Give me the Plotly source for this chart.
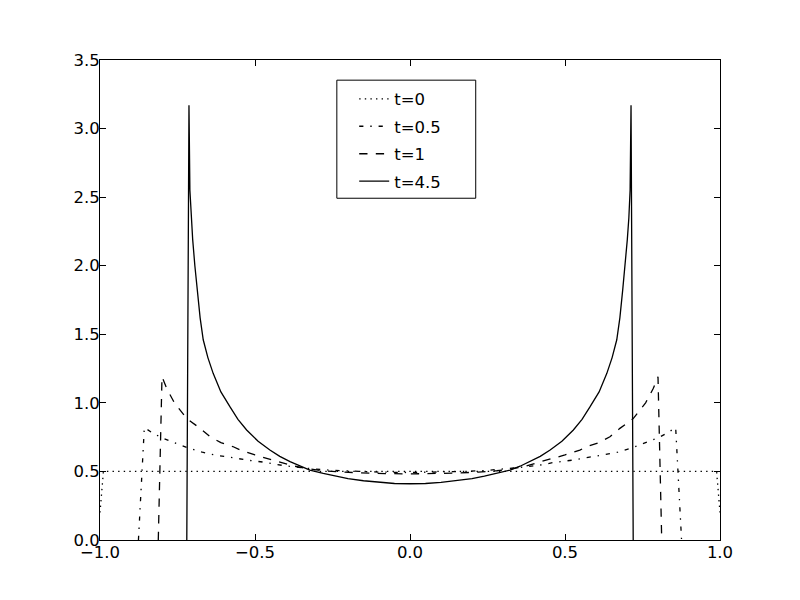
import plotly.graph_objects as go

# ── Data ──────────────────────────────────────────────────────
x_t0 = [-1.0, -0.989, 0.989, 1.0]
y_t0 = [0.2, 0.5, 0.5, 0.2]

x_t05 = [-0.876, -0.857, -0.830, -0.803, -0.760, -0.720, -0.670, -0.624,
         -0.570, -0.527, -0.462, -0.430, -0.380, -0.320, -0.250, -0.180,
         -0.100, 0.0,
         0.100, 0.180, 0.250, 0.320, 0.380, 0.430, 0.462, 0.527,
         0.570, 0.624, 0.670, 0.720, 0.760, 0.803, 0.830, 0.857, 0.876]
y_t05 = [0.0, 0.82, 0.78, 0.748, 0.71, 0.675, 0.64, 0.617,
         0.60, 0.583, 0.565, 0.55, 0.535, 0.52, 0.508, 0.50,
         0.495, 0.492,
         0.495, 0.50, 0.508, 0.52, 0.535, 0.55, 0.565, 0.583,
         0.60, 0.617, 0.64, 0.675, 0.71, 0.748, 0.78, 0.82, 0.0]

x_t1 = [-0.812, -0.800, -0.785, -0.760, -0.720, -0.677, -0.645, -0.610,
        -0.570, -0.548, -0.500, -0.462, -0.420, -0.376, -0.330, -0.280,
        -0.220, -0.150, -0.080, 0.0,
        0.080, 0.150, 0.220, 0.280, 0.330, 0.376, 0.420, 0.462,
        0.500, 0.548, 0.570, 0.610, 0.645, 0.677, 0.720, 0.760,
        0.785, 0.800, 0.812]
y_t1 = [0.0, 1.19, 1.106, 1.00, 0.885, 0.814, 0.753, 0.71,
        0.68, 0.656, 0.62, 0.596, 0.57, 0.54, 0.52, 0.505,
        0.495, 0.488, 0.484, 0.482,
        0.484, 0.488, 0.495, 0.505, 0.52, 0.54, 0.57, 0.596,
        0.62, 0.656, 0.68, 0.71, 0.753, 0.814, 0.885, 1.00,
        1.106, 1.19, 0.0]

x_t45 = [-0.720, -0.713, -0.710, -0.706, -0.701, -0.694, -0.686, -0.677,
         -0.667, -0.652, -0.635, -0.610, -0.581, -0.555, -0.527, -0.490,
         -0.452, -0.420, -0.387, -0.355, -0.323, -0.280, -0.240, -0.200,
         -0.150, -0.100, -0.050, 0.0,
         0.050, 0.100, 0.150, 0.200, 0.240, 0.280, 0.323, 0.355,
         0.387, 0.420, 0.452, 0.490, 0.527, 0.555, 0.581, 0.610,
         0.635, 0.652, 0.667, 0.677, 0.686, 0.694, 0.701, 0.706,
         0.710, 0.713, 0.720]
y_t45 = [0.0, 3.17, 2.55, 2.35, 2.19, 2.00, 1.82, 1.62,
         1.46, 1.33, 1.215, 1.08, 0.972, 0.88, 0.802, 0.72,
         0.656, 0.61, 0.571, 0.538, 0.510, 0.485, 0.465, 0.448,
         0.432, 0.42, 0.412, 0.41,
         0.412, 0.42, 0.432, 0.448, 0.465, 0.485, 0.510, 0.538,
         0.571, 0.61, 0.656, 0.72, 0.802, 0.88, 0.972, 1.08,
         1.215, 1.33, 1.46, 1.62, 1.82, 2.00, 2.19, 2.35,
         2.55, 3.17, 0.0]

x_ticks = [-1.0, -0.5, 0.0, 0.5, 1.0]
x_ticktext = ["\u22121.0", "\u22120.5", "0.0", "0.5", "1.0"]
y_ticks = [0.0, 0.5, 1.0, 1.5, 2.0, 2.5, 3.0, 3.5]
y_ticktext = ["0.0", "0.5", "1.0", "1.5", "2.0", "2.5", "3.0", "3.5"]

_FONT = dict(family="DejaVu Sans, sans-serif", color="black", size=16.5)
_LW = 1.3

fig = go.Figure()
fig.add_trace(go.Scatter(x=x_t0, y=y_t0, mode="lines", name="t=0", legendgroup="a",
                         line=dict(color="black", width=_LW, dash="1.4px,4.2px")))
fig.add_trace(go.Scatter(x=x_t05, y=y_t05, mode="lines", name="t=0.5", legendgroup="b",
                         line=dict(color="black", width=_LW,
                                   dash="4.2px,6.9px,1.4px,6.9px")))
fig.add_trace(go.Scatter(x=x_t1, y=y_t1, mode="lines", name="t=1", legendgroup="c",
                         line=dict(color="black", width=_LW, dash="8.3px,8.3px")))
fig.add_trace(go.Scatter(x=x_t45, y=y_t45, mode="lines", name="t=4.5", legendgroup="d",
                         line=dict(color="black", width=_LW)))

_axis = dict(showline=True, linecolor="black", linewidth=1, mirror="ticks",
             ticks="inside", ticklen=6, tickcolor="black", tickwidth=1,
             showgrid=False, zeroline=False, tickfont=_FONT)

# legend frame drawn as a box (paper coords of the plot area)
fig.add_shape(type="rect", xref="paper", yref="paper",
              x0=0.382, x1=0.606, y0=0.712, y1=0.958,
              line=dict(color="black", width=1), fillcolor="white", layer="above")

# page body adds 8px offset, so margins are shifted to keep the plot at 100..720 / 60..540
fig.update_layout(
    width=800, height=600,
    paper_bgcolor="white", plot_bgcolor="white",
    font=_FONT,
    margin=dict(l=92, r=88, t=52, b=68),
    xaxis=dict(range=[-1, 1], tickmode="array", tickvals=x_ticks,
               ticktext=x_ticktext, ticklabelstandoff=-3, **_axis),
    yaxis=dict(range=[0, 3.5], tickmode="array", tickvals=y_ticks,
               ticktext=y_ticktext, ticklabelstandoff=-4, **_axis),
    legend=dict(x=0.41, y=0.955, xanchor="left", yanchor="top",
                bgcolor="rgba(0,0,0,0)", borderwidth=0,
                traceorder="grouped", tracegroupgap=3, itemwidth=30,
                font=_FONT),
    showlegend=True,
)

fig.write_html("out.html")
